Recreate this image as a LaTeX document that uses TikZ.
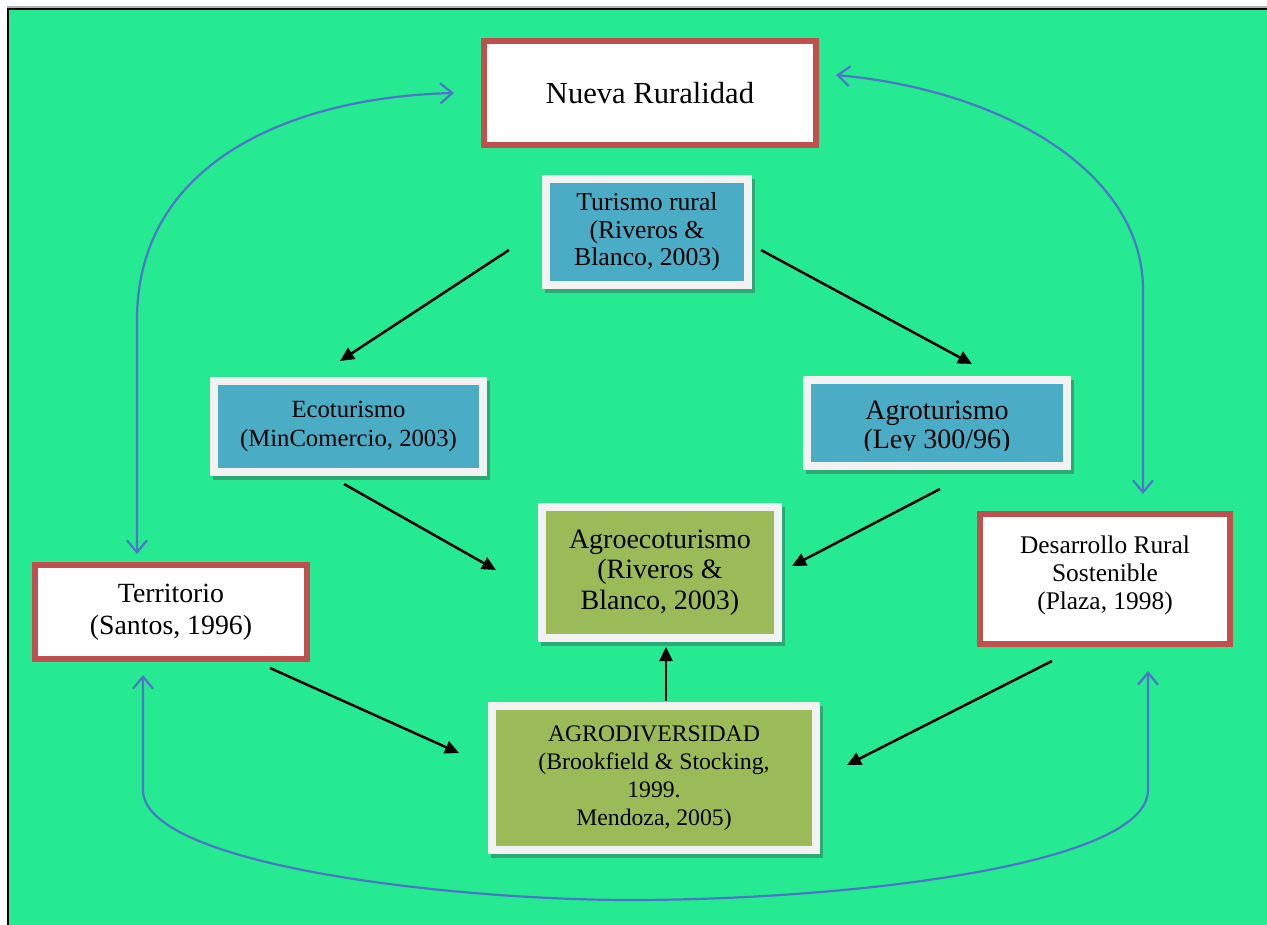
\documentclass[tikz,border=0pt]{standalone}
\usepackage{fontspec}
\setmainfont{Liberation Serif}
\usetikzlibrary{arrows.meta,calc}
\definecolor{bgg}{HTML}{26EA92}
\definecolor{redc}{HTML}{C0504D}
\definecolor{bluf}{HTML}{4BACC6}
\definecolor{olf}{HTML}{9BBB59}
\definecolor{framec}{HTML}{F2F2F2}
\definecolor{shadc}{HTML}{2FA878}
\definecolor{bluc}{RGB}{76,118,198}
\begin{document}
\begin{tikzpicture}[x=1pt,y=-1pt,
  redbox/.style={draw=redc, line width=6pt, fill=white, inner sep=0pt, align=center, text=black},
  framebox/.style={draw=framec, line width=8pt, inner sep=0pt, align=center, text=black,
     preaction={draw=shadc, fill=shadc, line width=8pt, transform canvas={shift={(3pt,-4pt)}}}},
  blk/.style={line width=2.5pt, -{Triangle[length=14pt,width=13pt]}},
  blu/.style={draw=bluc, line width=2.2pt, {Straight Barb[length=12pt,width=20pt]}-{Straight Barb[length=12pt,width=20pt]}}
]
\useasboundingbox (0,0) rectangle (1267,925);
\fill[white] (0,0) rectangle (1267,925);
\fill[bgg] (9,10) rectangle (1267,925);
\draw[gray!60, line width=1.2pt] (7,7) -- (1267,7);
\draw[black, line width=2.5pt] (7.8,925) -- (7.8,8.8) -- (1267,8.8);

\node[redbox, minimum width=332pt, minimum height=104pt, font=\fontsize{30.6}{33}\selectfont] (nr) at (650,93) {Nueva Ruralidad};
\node[framebox, fill=bluf, minimum width=202pt, minimum height=106pt, font=\fontsize{25.7}{27.5}\selectfont] (tur) at (647,232) {Turismo rural\\(Riveros \&\\Blanco, 2003)};
\node[framebox, fill=bluf, minimum width=269pt, minimum height=91pt, font=\fontsize{24.7}{29}\selectfont] (eco) at (348.5,426.5) {Ecoturismo\\(MinComercio, 2003)};
\node[framebox, fill=bluf, minimum width=260pt, minimum height=86pt, font=\fontsize{28}{29}\selectfont] (agt) at (937,423) {\rule{0pt}{29pt}Agroturismo\\(Ley 300/96)};
\fill[bluf] (811,451) rectangle (1063,462);
\node[framebox, fill=olf, minimum width=236pt, minimum height=131pt, font=\fontsize{28}{30.5}\selectfont] (age) at (660,572.5) {Agroecoturismo\\(Riveros \&\\Blanco, 2003)};
\node[framebox, fill=olf, minimum width=324pt, minimum height=144pt, font=\fontsize{23.7}{28}\selectfont] (div) at (654,778) {AGRODIVERSIDAD\\(Brookfield \& Stocking,\\1999.\\Mendoza, 2005)};
\node[redbox, minimum width=272pt, minimum height=94pt, font=\fontsize{27.8}{32}\selectfont] (ter) at (171,612) {Territorio\\(Santos, 1996)};
\node[redbox, minimum width=250pt, minimum height=130pt, font=\fontsize{25.4}{28}\selectfont] (des) at (1105,579) {Desarrollo Rural\\Sostenible\\(Plaza, 1998)\rule[-12pt]{0pt}{0pt}};

\draw[blk] ($(tur.west)+(-33,18)$) -- ($(eco.north)+(-8.5,-16)$);
\draw[blk] ($(tur.east)+(9,18)$) -- ($(agt.north)+(35,-12)$);
\draw[blk] ($(eco.south)+(-4.5,8)$) -- ($(age.west)+(-42,-2.5)$);
\draw[blk] ($(agt.south)+(3,19)$) -- ($(age.east)+(10,-6.5)$);
\draw[blk] ($(ter.south)+(99,6)$) -- ($(div.west)+(-29,-25)$);
\draw[blk] ($(des.south)+(-53,14)$) -- ($(div.east)+(27,-13)$);
\draw[blk] ($(div.north)+(12,-1)$) -- ($(age.south)+(6,5)$);

\draw[blu] ($(ter.north)+(-34,-8)$) -- (137,320) .. controls (137,160) and (295,97) .. ($(nr.west)+(-27,0)$);
\draw[blu] ($(nr.east)+(17,-18)$) .. controls (1000,90) and (1143,170) .. (1143,290) -- ($(des.north)+(38,-17)$);
\draw[blu] ($(ter.south)+(-28,13)$) -- (143,790) .. controls (143,865) and (450,900) .. (630,900) .. controls (850,900) and (1148,865) .. (1148,790) -- ($(des.south)+(43,24)$);
\end{tikzpicture}
\end{document}
